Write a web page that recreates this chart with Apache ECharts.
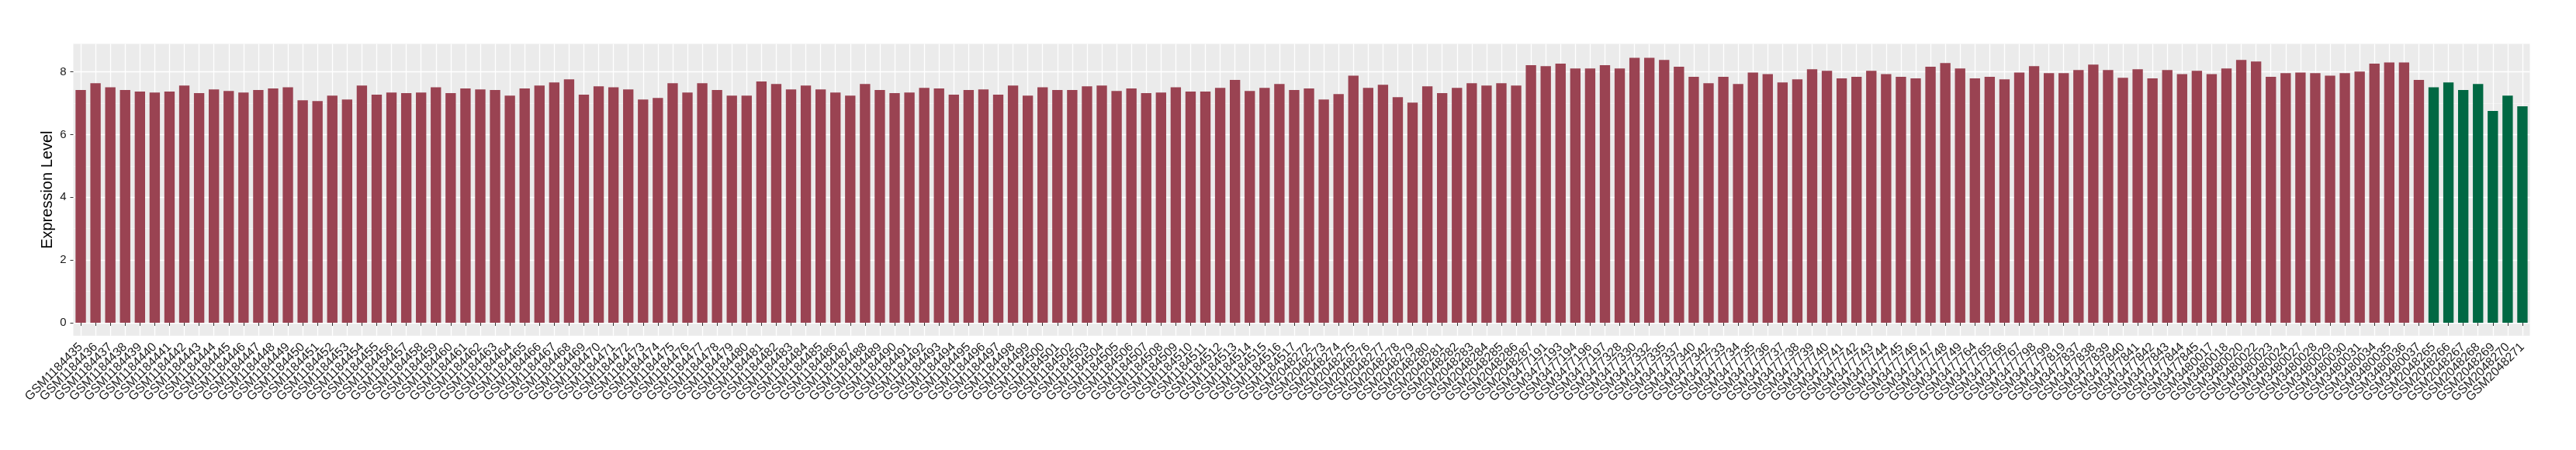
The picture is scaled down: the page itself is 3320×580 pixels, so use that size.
<!DOCTYPE html>
<html>
<head>
<meta charset="utf-8">
<script src="https://cdn.jsdelivr.net/npm/echarts@6/dist/echarts.min.js"></script>
<style>
html,body{margin:0;padding:0;background:#fff;}
#chart{width:3320px;height:580px;}
</style>
</head>
<body>
<div id="chart"></div>
<script>
const categories = [
"GSM1184435","GSM1184436","GSM1184437","GSM1184438","GSM1184439","GSM1184440","GSM1184441","GSM1184442","GSM1184443","GSM1184444",
"GSM1184445","GSM1184446","GSM1184447","GSM1184448","GSM1184449","GSM1184450","GSM1184451","GSM1184452","GSM1184453","GSM1184454",
"GSM1184455","GSM1184456","GSM1184457","GSM1184458","GSM1184459","GSM1184460","GSM1184461","GSM1184462","GSM1184463","GSM1184464",
"GSM1184465","GSM1184466","GSM1184467","GSM1184468","GSM1184469","GSM1184470","GSM1184471","GSM1184472","GSM1184473","GSM1184474",
"GSM1184475","GSM1184476","GSM1184477","GSM1184478","GSM1184479","GSM1184480","GSM1184481","GSM1184482","GSM1184483","GSM1184484",
"GSM1184485","GSM1184486","GSM1184487","GSM1184488","GSM1184489","GSM1184490","GSM1184491","GSM1184492","GSM1184493","GSM1184494",
"GSM1184495","GSM1184496","GSM1184497","GSM1184498","GSM1184499","GSM1184500","GSM1184501","GSM1184502","GSM1184503","GSM1184504",
"GSM1184505","GSM1184506","GSM1184507","GSM1184508","GSM1184509","GSM1184510","GSM1184511","GSM1184512","GSM1184513","GSM1184514",
"GSM1184515","GSM1184516","GSM1184517",
"GSM2048272","GSM2048273","GSM2048274","GSM2048275","GSM2048276","GSM2048277","GSM2048278","GSM2048279","GSM2048280","GSM2048281",
"GSM2048282","GSM2048283","GSM2048284","GSM2048285","GSM2048286","GSM2048287",
"GSM3477191","GSM3477193","GSM3477194","GSM3477196","GSM3477197",
"GSM3477328","GSM3477330","GSM3477332","GSM3477335","GSM3477337","GSM3477340","GSM3477342",
"GSM3477733","GSM3477734","GSM3477735","GSM3477736","GSM3477737","GSM3477738","GSM3477739","GSM3477740","GSM3477741","GSM3477742",
"GSM3477743","GSM3477744","GSM3477745","GSM3477746","GSM3477747","GSM3477748","GSM3477749",
"GSM3477764","GSM3477765","GSM3477766","GSM3477767","GSM3477798","GSM3477799","GSM3477819",
"GSM3477837","GSM3477838","GSM3477839","GSM3477840","GSM3477841","GSM3477842","GSM3477843","GSM3477844","GSM3477845",
"GSM3480017","GSM3480018","GSM3480020","GSM3480022","GSM3480023","GSM3480024","GSM3480027","GSM3480028","GSM3480029","GSM3480030",
"GSM3480031","GSM3480034","GSM3480035","GSM3480036","GSM3480037",
"GSM2048265","GSM2048266","GSM2048267","GSM2048268","GSM2048269","GSM2048270","GSM2048271"
];

// first group (dark red bars)
const groupAValues = [
7.42,7.64,7.51,7.42,7.37,7.34,7.37,7.56,7.32,7.44,7.39,7.34,7.42,7.47,7.51,7.09,7.07,7.24,7.12,7.56,
7.27,7.34,7.32,7.34,7.51,7.32,7.47,7.44,7.42,7.24,7.47,7.56,7.66,
7.76,7.27,7.54,7.51,7.44,7.12,7.17,7.64,7.34,7.64,7.42,7.24,7.24,7.69,7.61,7.44,7.56,7.44,7.34,7.24,
7.61,7.42,7.32,7.34,7.49,7.47,7.27,7.42,7.44,7.27,7.56,7.24,7.51,
7.42,7.42,7.54,7.56,7.39,7.47,7.32,7.34,7.51,7.37,7.37,7.49,7.74,7.39,7.49,7.61,7.42,7.47,7.12,7.29,
7.88,7.49,7.59,7.19,7.02,7.54,7.32,7.49,7.64,7.56,7.64,7.56,8.21,
8.18,8.26,8.11,8.11,8.21,8.11,8.45,8.45,8.38,8.16,7.84,7.64,7.84,7.61,7.98,7.93,7.66,7.76,8.08,8.03,
7.79,7.84,8.03,7.93,7.84,7.79,8.16,8.28,8.11,7.79,7.84,7.76,7.98,8.18,
7.96,7.96,8.06,8.23,8.06,7.81,8.08,7.79,8.06,7.93,8.03,7.93,8.11,8.38,8.33,7.84,7.96,7.98,7.96,7.88,
7.96,8.01,8.26,8.30,8.30,7.74
];
// second group (green bars)
const groupBValues = [7.51,7.66,7.42,7.61,6.75,7.24,6.90];

const yTickValues = [0,2,4,6,8];
const yMinorValues = [1,3,5,7];

const COLOR_A = '#9A4352';
const COLOR_B = '#006843';
const FONT = '"Liberation Sans", Arial, Helvetica, sans-serif';

const barData = groupAValues.map(v => ({value: v, itemStyle: {color: COLOR_A}}))
  .concat(groupBValues.map(v => ({value: v, itemStyle: {color: COLOR_B}})));

const chart = echarts.init(document.getElementById('chart'), null, {renderer: 'canvas'});
const yMin = -0.415, yMax = 8.89;
chart.setOption({
  animation: false,
  backgroundColor: '#ffffff',
  grid: {
    left: 94.5, right: 59.5, top: 56.6, bottom: 147.2,
    show: true, backgroundColor: '#EBEBEB', borderWidth: 0
  },
  xAxis: {
    type: 'category',
    data: categories,
    axisLine: {show: false},
    axisTick: {show: true, alignWithLabel: true, length: 4, lineStyle: {color: '#333333', width: 1}},
    axisLabel: {interval: 0, rotate: 45, fontSize: 16, color: '#1a1a1a', fontFamily: FONT, margin: 12},
    splitLine: {show: true, alignWithLabel: true, lineStyle: {color: '#ffffff', width: 1.3}}
  },
  yAxis: [
    {
      type: 'value', min: yMin, max: yMax,
      name: 'Expression Level', nameLocation: 'middle', nameGap: 23, nameMoveOverlap: false,
      nameTextStyle: {fontSize: 20, color: '#000000', fontFamily: FONT},
      axisLine: {show: false},
      axisTick: {show: true, customValues: yTickValues, length: 4, lineStyle: {color: '#333333', width: 1}},
      axisLabel: {customValues: yTickValues, fontSize: 15, color: '#1a1a1a', fontFamily: FONT, margin: 9},
      splitLine: {show: true, lineStyle: {color: '#ffffff', width: 1.3}}
    },
    {
      type: 'value', min: yMin, max: yMax, position: 'left',
      axisLine: {show: false},
      axisTick: {show: false, customValues: yMinorValues},
      axisLabel: {show: false, customValues: yMinorValues},
      splitLine: {show: true, lineStyle: {color: '#F7F7F7', width: 0.7}}
    }
  ],
  series: [{
    type: 'bar',
    data: barData,
    barWidth: '70%',
    yAxisIndex: 0
  }]
});
</script>
</body>
</html>
